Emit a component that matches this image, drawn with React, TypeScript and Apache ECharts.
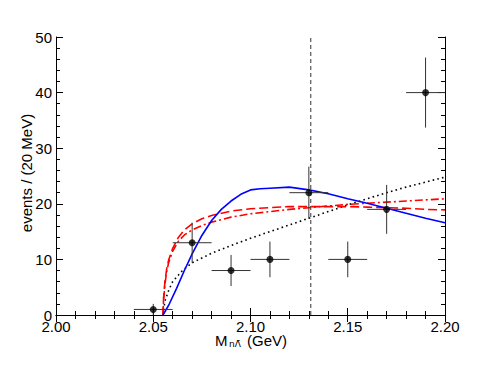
import React, { useEffect, useRef } from "react";
import * as echarts from "echarts";

const binCenters = [2.05, 2.07, 2.09, 2.11, 2.13, 2.15, 2.17, 2.19];
const counts = [1, 13, 8, 10, 22, 10, 19, 40];
const errX = [0.01, 0.01, 0.01, 0.01, 0.01, 0.01, 0.01, 0.01];
const errY = [1, 3.6, 2.8, 3.2, 4.7, 3.2, 4.4, 6.3];

const blueFit: [number, number][] = [
  [2.055, 0], [2.058, 1.8], [2.062, 4.8], [2.066, 8], [2.07, 11], [2.075, 14.3],
  [2.08, 17], [2.085, 19], [2.09, 20.5], [2.095, 21.7], [2.1, 22.5], [2.105, 22.7],
  [2.11, 22.8], [2.12, 23.0], [2.13, 22.5], [2.14, 21.8], [2.15, 20.9], [2.16, 20.1],
  [2.17, 19.2], [2.18, 18.3], [2.19, 17.4], [2.2, 16.6],
];

const redDashed: [number, number][] = [
  [2.055, 0], [2.0553, 3], [2.056, 6], [2.057, 8.5], [2.058, 10], [2.06, 12],
  [2.063, 14], [2.066, 15.3], [2.07, 16.4], [2.075, 17.3], [2.08, 17.9], [2.09, 18.7],
  [2.1, 19.1], [2.11, 19.3], [2.12, 19.5], [2.13, 19.5], [2.14, 19.5], [2.15, 19.5],
  [2.16, 19.4], [2.17, 19.3], [2.18, 19.2], [2.19, 19.0], [2.2, 18.9],
];

const redDashDot: [number, number][] = [
  [2.055, 0], [2.0553, 2.5], [2.056, 5.5], [2.057, 8], [2.058, 9.5], [2.06, 11.5],
  [2.063, 13.3], [2.066, 14.4], [2.07, 15.3], [2.075, 16.1], [2.08, 16.7], [2.09, 17.6],
  [2.1, 18.2], [2.11, 18.6], [2.12, 19.0], [2.13, 19.3], [2.14, 19.6], [2.15, 19.9],
  [2.16, 20.1], [2.17, 20.3], [2.18, 20.5], [2.19, 20.7], [2.2, 20.9],
];

const blackDotted: [number, number][] = [
  [2.055, 0], [2.056, 2.5], [2.058, 4.5], [2.06, 6], [2.065, 8], [2.07, 9.4],
  [2.08, 11.1], [2.09, 12.5], [2.1, 13.8], [2.11, 15.0], [2.12, 16.2], [2.13, 17.4],
  [2.14, 18.6], [2.15, 19.8], [2.16, 20.9], [2.17, 22.0], [2.18, 23.0], [2.19, 23.9],
  [2.2, 24.8],
];

const markerX = 2.131;
const yRange = [0, 50];

const FONT = "'Liberation Sans', Arial, Helvetica, sans-serif";

export default function App() {
  const ref = useRef<HTMLDivElement>(null);
  useEffect(() => {
    if (!ref.current) return;
    const chart = echarts.init(ref.current, undefined, { renderer: "svg" });
    const points = binCenters.map((x, i) => [x, counts[i], errX[i], errY[i]]);
    const axisCommon = {
      type: "value" as const,
      axisLine: { show: true, lineStyle: { color: "#000", width: 1 } },
      axisTick: { show: true, inside: true, length: 7, lineStyle: { color: "#000", width: 1 } },
      minorTick: { show: true, splitNumber: 5, length: 4, lineStyle: { color: "#000", width: 1 } },
      splitLine: { show: false },
      minorSplitLine: { show: false },
    };
    const lineSeries = (data: [number, number][], color: string, type: any, width: number, z = 3) => ({
      type: "line",
      data,
      showSymbol: false,
      symbol: "none",
      smooth: false,
      z,
      lineStyle: { color, width, type },
      silent: true,
    });
    chart.setOption({
      animation: false,
      backgroundColor: "#fff",
      grid: { left: 56, right: 35, top: 37, bottom: 56 },
      xAxis: [
        {
          ...axisCommon,
          min: 2.0,
          max: 2.2,
          interval: 0.05,
          position: "bottom",
          axisLabel: {
            show: true,
            margin: 4,
            color: "#000",
            fontSize: 15,
            fontFamily: FONT,
            formatter: (v: number) => v.toFixed(2),
          },
        },
        {
          ...axisCommon,
          min: 2.0,
          max: 2.2,
          interval: 0.05,
          position: "top",
          axisLabel: { show: false },
        },
      ],
      yAxis: [
        {
          ...axisCommon,
          min: yRange[0],
          max: yRange[1],
          interval: 10,
          position: "left",
          axisLabel: {
            show: true,
            margin: 4,
            color: "#000",
            fontSize: 15,
            fontFamily: FONT,
          },
        },
        {
          ...axisCommon,
          min: yRange[0],
          max: yRange[1],
          interval: 10,
          position: "right",
          axisLabel: { show: false },
        },
      ],
      series: [
        {
          type: "line",
          data: [[markerX, yRange[0]], [markerX, yRange[1]]],
          showSymbol: false,
          symbol: "none",
          lineStyle: { color: "#333", width: 1, type: [4, 3] },
          z: 2,
          silent: true,
        },
        lineSeries(blackDotted, "#000", [1.6, 3.2], 1.6),
        lineSeries(redDashed, "#ff0000", [9, 4], 1.6),
        lineSeries(redDashDot, "#ff0000", [8, 3, 2, 3], 1.6),
        lineSeries(blueFit, "#0000ff", "solid", 1.6),
        {
          type: "custom",
          data: points,
          z: 4,
          silent: true,
          renderItem: (params: any, api: any) => {
            const x = api.value(0);
            const y = api.value(1);
            const ex = api.value(2);
            const ey = api.value(3);
            const l = api.coord([x - ex, y]);
            const r = api.coord([x + ex, y]);
            const b = api.coord([x, Math.max(0, y - ey)]);
            const t = api.coord([x, y + ey]);
            return {
              type: "group",
              children: [
                { type: "line", shape: { x1: l[0], y1: l[1], x2: r[0], y2: r[1] }, style: { stroke: "#333", lineWidth: 1 } },
                { type: "line", shape: { x1: b[0], y1: b[1], x2: t[0], y2: t[1] }, style: { stroke: "#333", lineWidth: 1 } },
              ],
            };
          },
        },
        {
          type: "scatter",
          data: binCenters.map((x, i) => [x, counts[i]]),
          symbol: "circle",
          symbolSize: 7,
          itemStyle: { color: "#000" },
          z: 5,
          silent: true,
        },
      ],
      graphic: [
        {
          type: "text",
          x: 26,
          y: 173,
          rotation: Math.PI / 2,
          style: {
            text: "events / (20 MeV)",
            fontSize: 15,
            fontFamily: FONT,
            fill: "#000",
            align: "center",
            verticalAlign: "middle",
          },
        },
        {
          type: "text",
          x: 215,
          y: 340.5,
          style: { text: "M", fontSize: 15, fontFamily: FONT, fill: "#000", align: "left", verticalAlign: "middle" },
        },
        {
          type: "text",
          x: 229,
          y: 344,
          style: { text: "nΛ̄", fontSize: 9, fontFamily: "'DejaVu Sans', sans-serif", fill: "#000", align: "left", verticalAlign: "middle" },
        },
        {
          type: "text",
          x: 247,
          y: 340.5,
          style: { text: "(GeV)", fontSize: 15, fontFamily: FONT, fill: "#000", align: "left", verticalAlign: "middle" },
        },
      ],
    });
    return () => chart.dispose();
  }, []);
  return (
    <div
      ref={ref}
      style={{ position: "absolute", left: 0, top: 0, width: 480, height: 371 }}
    />
  );
}
